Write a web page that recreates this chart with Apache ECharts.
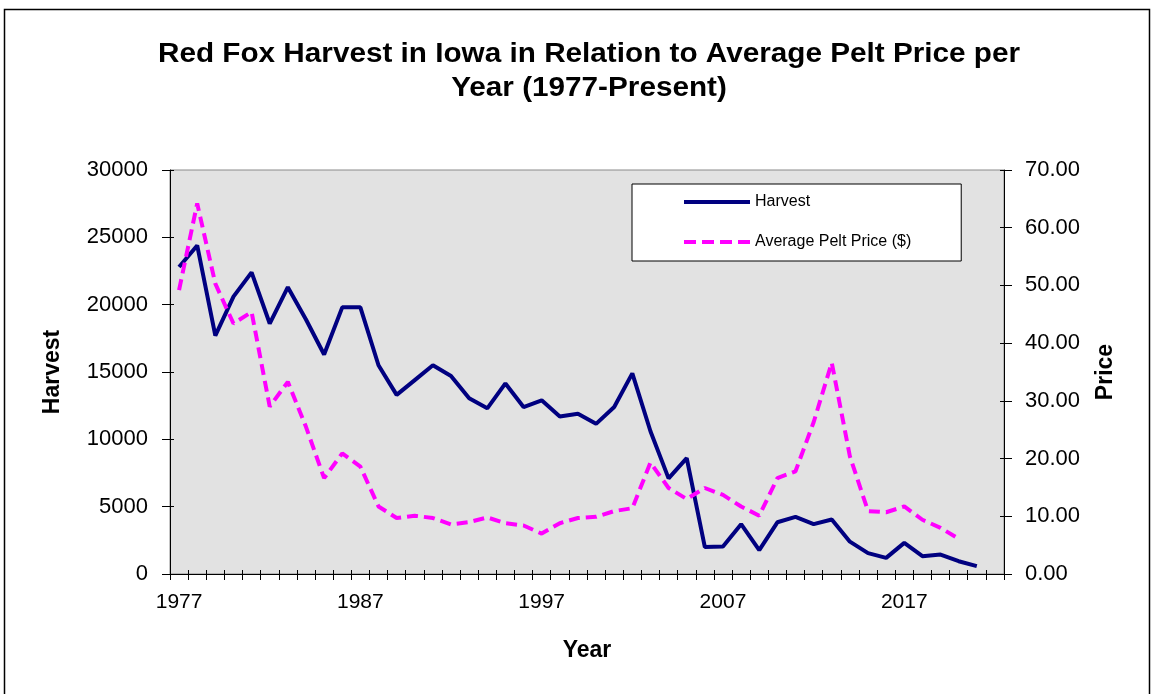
<!DOCTYPE html>
<html>
<head>
<meta charset="utf-8">
<script src="https://cdn.jsdelivr.net/npm/echarts@6/dist/echarts.min.js"></script>
<style>
html,body{margin:0;padding:0;background:#fff;}
#chart{width:1151px;height:694px;}
</style>
</head>
<body>
<div id="chart"></div>
<script>
const years = [];
for (let y = 1977; y <= 2022; y++) years.push(String(y));

const harvest = [22800, 24400, 17700, 20600, 22400, 18600, 21300, 18900, 16300, 19800,
  19800, 15500, 13300, 14400, 15500, 14700, 13050, 12300, 14150, 12400,
  12900, 11700, 11900, 11150, 12400, 14900, 10600, 7100, 8600, 2000,
  2050, 3700, 1770, 3840, 4240, 3700, 4050, 2400, 1550, 1200,
  2310, 1320, 1440, 950, 580, null];

const price = [49.2, 64.2, 50.3, 43.4, 45.4, 29.0, 33.3, 25.5, 16.6, 20.9,
  18.6, 11.7, 9.7, 10.1, 9.7, 8.6, 9.0, 9.8, 8.8, 8.4,
  7.0, 8.8, 9.7, 9.9, 10.9, 11.4, 19.3, 14.9, 13.0, 14.9,
  13.7, 11.7, 10.1, 16.6, 17.8, 26.3, 36.6, 20.4, 10.9, 10.7,
  11.7, 9.4, 8.0, 6.1, null, null];

const titleLines = 'Red Fox Harvest in Iowa in Relation to Average Pelt Price per\nYear (1977-Present)';
const seriesNames = ['Harvest', 'Average Pelt Price ($)'];
const FONT = "'Liberation Sans', Arial, sans-serif";

const solidIcon = 'path://M0,0L66,0L66,4L0,4Z';
const dashIcon = 'path://M0,0L12,0L12,4L0,4Z M18,0L30,0L30,4L18,4Z M36,0L48,0L48,4L36,4Z M54,0L66,0L66,4L54,4Z';

const crossTick = (extra) => Object.assign({
  axisLine: { show: false },
  axisLabel: { show: false },
  splitLine: { show: false },
  axisTick: { show: true, inside: true, length: 4, lineStyle: { color: '#000' } }
}, extra);

const chart = echarts.init(document.getElementById('chart'));
chart.setOption({
  backgroundColor: '#ffffff',
  animation: false,
  textStyle: { fontFamily: FONT },
  graphic: [
    { type: 'rect', shape: { x: 4.5, y: 9.5, width: 1145, height: 700 },
      style: { fill: 'none', stroke: '#000', lineWidth: 1.5 }, z: -1 },
    { type: 'text', x: 589, y: 38, scaleX: 1.1,
      style: { text: titleLines, align: 'center', verticalAlign: 'top',
        fontFamily: FONT, fontSize: 27, fontWeight: 'bold', lineHeight: 34, fill: '#000' } }
  ],
  grid: {
    left: 170, right: 147, top: 170, bottom: 120,
    show: true, backgroundColor: '#e2e2e2', borderColor: '#8a8a8a', borderWidth: 1,
    outerBoundsMode: 'none'
  },
  legend: {
    data: [
      { name: seriesNames[0], icon: solidIcon },
      { name: seriesNames[1], icon: dashIcon }
    ],
    orient: 'vertical', left: 632, top: 184,
    backgroundColor: '#ffffff', borderColor: '#000', borderWidth: 1,
    padding: [10, 50, 11, 52],
    itemWidth: 66, itemHeight: 4, itemGap: 24,
    textStyle: { fontSize: 16, color: '#000', fontFamily: FONT }
  },
  xAxis: [
    {
      type: 'category', data: years, boundaryGap: true,
      name: 'Year', nameLocation: 'middle', nameGap: 65,
      nameTextStyle: { fontSize: 23, fontWeight: 'bold', color: '#000' },
      axisLine: { show: true, lineStyle: { color: '#000', width: 1 } },
      axisTick: { show: true, interval: 0, length: 6, lineStyle: { color: '#000' } },
      axisLabel: { interval: 9, fontSize: 21, color: '#000', margin: 18 },
      splitLine: { show: false }
    },
    crossTick({ type: 'category', data: years, boundaryGap: true, position: 'bottom',
      axisTick: { show: true, inside: true, interval: 0, length: 4, lineStyle: { color: '#000' } } })
  ],
  yAxis: [
    {
      type: 'value', min: 0, max: 30000, interval: 5000, position: 'left',
      name: 'Harvest', nameLocation: 'middle', nameGap: 106,
      nameTextStyle: { fontSize: 23, fontWeight: 'bold', color: '#000' },
      axisLine: { show: true, lineStyle: { color: '#000', width: 1 } },
      axisTick: { show: true, length: 8, lineStyle: { color: '#000' } },
      axisLabel: { fontSize: 22, color: '#000', margin: 22, formatter: v => String(v) },
      splitLine: { show: false }
    },
    {
      type: 'value', min: 0, max: 70, interval: 10, position: 'right',
      name: 'Price', nameLocation: 'middle', nameGap: 90,
      nameTextStyle: { fontSize: 23, fontWeight: 'bold', color: '#000' },
      axisLine: { show: true, lineStyle: { color: '#000', width: 1 } },
      axisTick: { show: true, length: 8, lineStyle: { color: '#000' } },
      axisLabel: { fontSize: 22, color: '#000', margin: 21, formatter: v => v.toFixed(2) },
      splitLine: { show: false }
    },
    crossTick({ type: 'value', min: 0, max: 30000, interval: 5000, position: 'left' }),
    crossTick({ type: 'value', min: 0, max: 70, interval: 10, position: 'right' })
  ],
  series: [
    {
      name: seriesNames[0], type: 'line', yAxisIndex: 0, data: harvest,
      symbol: 'none', color: '#000080',
      lineStyle: { color: '#000080', width: 4 }
    },
    {
      name: seriesNames[1], type: 'line', yAxisIndex: 1, data: price,
      symbol: 'none', color: '#ff00ff',
      lineStyle: { color: '#ff00ff', width: 4, type: [11, 6] }
    }
  ]
});
</script>
</body>
</html>
